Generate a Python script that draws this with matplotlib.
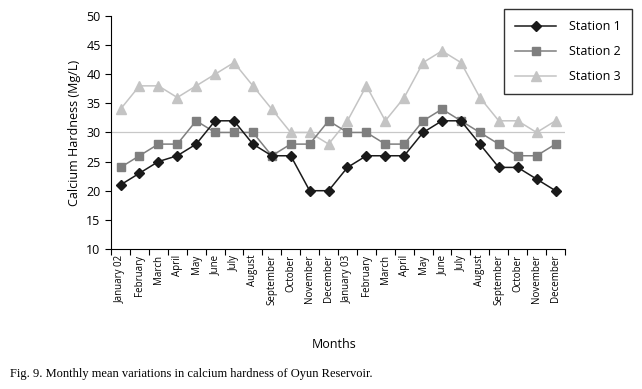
import matplotlib
matplotlib.use("Agg")
import matplotlib.pyplot as plt

months = ["January 02", "February", "March", "April", "May", "June", "July",
          "August", "September", "October", "November", "December",
          "January 03", "February", "March", "April", "May", "June", "July",
          "August", "September", "October", "November", "December"]
station1 = [21, 23, 25, 26, 28, 32, 32, 28, 26, 26, 20, 20,
            24, 26, 26, 26, 30, 32, 32, 28, 24, 24, 22, 20]
station2 = [24, 26, 28, 28, 32, 30, 30, 30, 26, 28, 28, 32,
            30, 30, 28, 28, 32, 34, 32, 30, 28, 26, 26, 28]
station3 = [34, 38, 38, 36, 38, 40, 42, 38, 34, 30, 30, 28,
            32, 38, 32, 36, 42, 44, 42, 36, 32, 32, 30, 32]

plt.rcParams['font.family'] = ['Open Sans', 'DejaVu Sans']

fig = plt.figure(figsize=(6.42, 3.89), dpi=100)
ax = fig.add_axes([0.173, 0.36, 0.707, 0.599])

x = list(range(len(months)))
ax.axhline(30, color="#c8c8c8", lw=0.9, zorder=1)
ax.plot(x, station3, color="#c4c4c4", marker="^", ms=6.5, lw=1.1, label="Station 3", zorder=2)
ax.plot(x, station2, color="#7f7f7f", marker="s", ms=5.5, lw=1.1, label="Station 2", zorder=3)
ax.plot(x, station1, color="#1a1a1a", marker="D", ms=5.5, lw=1.1, label="Station 1", zorder=4)

ax.set_xlim(-0.5, len(months) - 0.5)
ax.set_ylim(10, 50)
ax.set_yticks(range(10, 51, 5))
ax.set_xticks([i - 0.5 for i in range(len(months) + 1)], minor=False)
ax.set_xticklabels([])
ax.set_xticks(x, minor=True)
ax.set_xticklabels(months, minor=True, rotation=90, fontsize=7)
ax.tick_params(axis="x", which="minor", length=0, pad=4)
ax.tick_params(axis="x", which="major", length=4, direction="out")
ax.tick_params(axis="y", labelsize=9, length=4, direction="out")
ax.spines["top"].set_visible(False)
ax.spines["right"].set_visible(False)
ax.set_ylabel("Calcium Hardness (Mg/L)", fontsize=9)

handles, labels = ax.get_legend_handles_labels()
leg = fig.legend(handles[::-1], labels[::-1], loc="upper right",
                 bbox_to_anchor=(0.984, 0.977), borderaxespad=0, fontsize=9,
                 frameon=True, fancybox=False, edgecolor="black",
                 handlelength=3.3, handletextpad=1.0,
                 borderpad=0.9, labelspacing=0.95)
leg.get_frame().set_linewidth(1.0)

fig.text(0.52, 0.115, "Months", ha="center", va="center", fontsize=9)
fig.text(0.016, 0.038, "Fig. 9. Monthly mean variations in calcium hardness of Oyun Reservoir.",
         ha="left", va="center", fontsize=9, family="Liberation Serif")

fig.savefig("out.png", dpi=100)
